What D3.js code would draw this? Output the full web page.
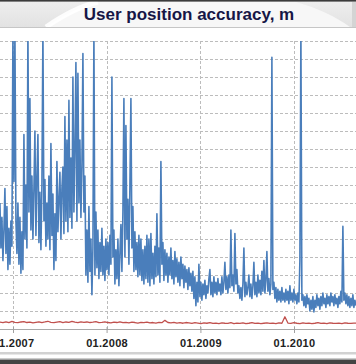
<!DOCTYPE html>
<html><head><meta charset="utf-8">
<script src="https://cdn.jsdelivr.net/npm/d3@7"></script>
<style>html,body{margin:0;padding:0;background:#fff;overflow:hidden}</style>
</head><body><svg id="c" width="356" height="364"></svg>
<script>
const chartTitle = "User position accuracy, m";
const tickYears = [2007, 2008, 2009, 2010];
const tickLabels = ["01.2007", "01.2008", "01.2009", "01.2010"];
const startDate = new Date(2006, 10, 11);
const blueStepDays = 3.9;
const redStepDays = 11.7;
const gridValues = [1,2,3,4,5,6,7,8,9,10,11,12,13,14,15,16];

const userAccuracy = [
7.0,4.5,6.2,3.8,5.5,7.8,4.2,6.8,3.3,5.6,3.6,6.0,4.6,16.5,8.2,16.5,6.0,4.2,7.0,3.6,
6.2,3.1,5.4,3.3,10.8,5.0,8.0,4.5,16.5,6.5,12.8,5.5,8.5,5.0,7.8,11.0,5.2,8.4,10.8,4.8,
7.6,4.4,8.0,16.5,6.0,8.3,4.6,7.0,5.0,8.5,4.4,10.3,5.2,7.5,3.3,6.4,3.8,9.3,5.4,7.2,
8.7,5.0,7.8,9.0,5.3,11.8,6.0,10.5,5.4,12.7,6.2,9.5,5.6,14.0,6.5,10.0,14.8,6.0,14.2,7.0,
10.5,6.2,9.0,15.3,6.5,8.5,3.0,5.5,2.6,6.8,3.2,5.0,1.9,4.5,16.5,3.0,6.5,3.4,5.5,2.8,
4.8,3.2,5.6,3.0,4.6,2.7,5.0,3.3,4.8,3.0,5.2,3.6,14.0,4.0,5.5,2.5,4.4,2.8,5.0,2.4,
4.2,5.8,3.2,6.5,12.8,4.0,11.3,5.0,7.2,3.6,8.0,12.8,4.5,6.8,3.2,5.4,3.3,4.8,2.9,5.2,
3.0,5.0,2.7,4.4,2.5,4.6,2.8,5.2,2.6,5.0,2.4,5.3,2.8,4.2,2.5,4.6,2.9,6.4,3.0,4.5,
2.6,9.3,3.6,4.8,2.7,4.4,3.0,4.2,2.6,4.0,3.0,4.5,2.8,3.8,2.5,4.3,2.9,3.9,2.6,3.7,
2.4,4.0,2.8,3.6,2.3,3.5,2.6,3.3,2.2,3.4,2.4,3.1,2.1,3.2,1.7,2.9,1.3,2.6,1.5,3.6,
1.8,2.6,1.6,2.5,1.9,2.7,1.7,2.4,2.0,2.8,3.3,1.9,2.6,1.8,2.9,2.0,2.6,1.9,2.8,2.1,
2.5,1.9,2.9,2.0,2.6,3.7,2.2,2.9,2.0,3.0,2.3,5.5,2.4,3.0,2.1,5.3,2.5,3.3,2.0,2.4,
1.7,2.3,1.6,2.5,4.5,1.8,2.6,1.9,2.3,3.0,1.8,2.5,1.7,2.4,3.7,1.9,2.6,1.8,3.0,2.0,
2.7,1.9,3.2,2.1,3.8,2.0,2.7,4.3,2.1,2.8,1.9,2.5,15.1,2.2,2.6,1.7,2.3,1.5,2.2,1.6,
2.1,1.5,2.3,1.6,2.0,1.5,2.2,1.6,2.1,1.4,2.4,1.6,2.0,1.5,2.2,1.6,1.9,1.4,2.0,1.5,
3.8,16.5,1.6,1.9,1.3,1.8,1.2,1.9,1.4,1.7,1.0,1.6,1.1,1.8,0.95,1.6,1.2,1.9,1.3,1.7,
1.1,1.8,1.3,2.0,1.4,1.7,1.2,1.9,1.4,1.8,1.3,2.0,1.5,1.8,1.3,1.9,1.4,1.7,1.2,1.8,
1.4,2.1,1.5,5.7,1.6,2.0,1.4,1.9,1.3,1.8,1.2,1.7,1.3,1.9,1.2,1.6,1.3
];

const referenceAccuracy = [
0.38,0.35,0.40,0.36,0.42,0.37,0.35,0.39,0.41,0.36,0.38,0.34,0.37,0.40,0.36,0.39,0.43,0.37,0.35,0.38,
0.41,0.36,0.39,0.37,0.42,0.38,0.35,0.40,0.37,0.39,
0.36,0.38,0.41,0.35,0.37,0.40,0.36,0.34,0.38,0.36,0.39,0.35,0.37,0.34,0.38,0.36,0.33,0.37,0.35,0.38,
0.34,0.36,0.33,0.37,0.35,0.48,0.36,0.34,0.37,0.33,
0.35,0.32,0.36,0.34,0.31,0.35,0.33,0.30,0.34,0.32,0.35,0.31,0.33,0.30,0.34,0.32,0.31,0.35,0.30,0.33,
0.31,0.34,0.30,0.32,0.35,0.31,0.33,0.30,0.32,0.34,
0.31,0.33,0.30,0.34,0.32,0.68,0.33,0.31,0.35,0.32,0.30,0.34,0.31,0.33,0.30,0.32,0.35,0.31,0.33,0.30,
0.34,0.32,0.31,0.33,0.30,0.34,0.32,0.31,0.33,0.32
];

const DAY = 86400000;
const blueData = userAccuracy.map((v, i) => ({date: new Date(+startDate + i * blueStepDays * DAY), value: v}));
const redData = referenceAccuracy.map((v, i) => ({date: new Date(+startDate + i * redStepDays * DAY), value: v}));

const W = 356, H = 364;
const svg = d3.select("#c");

const x = d3.scaleTime()
  .domain([new Date(2007, 0, 1), new Date(2010, 0, 1)])
  .range([13, 294]);
const y = d3.scaleLinear().domain([0, 16]).range([329, 41]);

// title band
const defs = svg.append("defs");
const g1 = defs.append("linearGradient").attr("id", "tb").attr("x1", 0).attr("y1", 0).attr("x2", 0).attr("y2", 1);
g1.append("stop").attr("offset", "0%").attr("stop-color", "#efefef");
g1.append("stop").attr("offset", "100%").attr("stop-color", "#e2e2e2");
svg.append("rect").attr("x", 0).attr("y", 0).attr("width", W).attr("height", 27).attr("fill", "url(#tb)");
svg.append("path").attr("d", "M46,27 C62,16 80,6 98,2 L296,2 C318,8 336,17 350,27 Z").attr("fill", "#f7f7f7");
svg.append("path").attr("d", "M46,27 C62,16 80,6 98,2").attr("fill", "none").attr("stroke", "#ffffff").attr("stroke-width", 5).attr("opacity", 0.9);
svg.append("rect").attr("x", 352).attr("y", 2).attr("width", 4).attr("height", 25).attr("fill", "#d4d4d4");
svg.append("rect").attr("x", 0).attr("y", 0).attr("width", W).attr("height", 1.6).attr("fill", "#3c3c3c");
svg.append("line").attr("x1", 0).attr("x2", W).attr("y1", 27.5).attr("y2", 27.5).attr("stroke", "#c6c6c6").attr("stroke-width", 1);

svg.append("text").attr("x", 189).attr("y", 20).attr("text-anchor", "middle")
  .attr("font-family", "Liberation Sans, Arial, sans-serif").attr("font-weight", "bold")
  .attr("font-size", 17).attr("fill", "#161646").text(chartTitle);

// gridlines
const grid = svg.append("g");
grid.selectAll("line.h").data(gridValues).join("line").attr("class", "h")
  .attr("x1", 0).attr("x2", W)
  .attr("y1", d => Math.round(y(d)) + 0.5).attr("y2", d => Math.round(y(d)) + 0.5)
  .attr("stroke", "#bcbcbc").attr("stroke-width", 1).attr("stroke-dasharray", "3,2");
const tickDates = tickYears.map(yr => new Date(yr, 0, 1));
grid.selectAll("line.v").data(tickDates).join("line").attr("class", "v")
  .attr("x1", d => Math.round(x(d)) + 0.5).attr("x2", d => Math.round(x(d)) + 0.5)
  .attr("y1", 41).attr("y2", 329)
  .attr("stroke", "#bcbcbc").attr("stroke-width", 1).attr("stroke-dasharray", "3,2");

// clip
defs.append("clipPath").attr("id", "pc").append("rect").attr("x", 0).attr("y", 41).attr("width", W).attr("height", 290);

const line = d3.line().x(d => x(d.date)).y(d => y(d.value));
svg.append("path").datum(blueData).attr("clip-path", "url(#pc)")
  .attr("d", line).attr("fill", "none").attr("stroke", "#4a7ebb")
  .attr("stroke-width", 1.6).attr("stroke-linejoin", "round");
svg.append("path").datum(redData).attr("clip-path", "url(#pc)")
  .attr("d", line).attr("fill", "none").attr("stroke", "#c0504d")
  .attr("stroke-width", 1.3).attr("stroke-linejoin", "round");

// axis
svg.append("line").attr("x1", 0).attr("x2", W).attr("y1", 329.5).attr("y2", 329.5).attr("stroke", "#a8a8a8");
const axis = d3.axisBottom(x).tickValues(tickDates).tickFormat((d, i) => tickLabels[i])
  .tickSize(4).tickSizeOuter(0).tickPadding(6);
const ag = svg.append("g").attr("transform", "translate(0,329)").call(axis);
ag.select(".domain").remove();
ag.selectAll(".tick line").attr("stroke", "#a0a0a0").attr("y1", -2);
ag.selectAll(".tick text").attr("font-family", "Liberation Sans, Arial, sans-serif")
  .attr("font-weight", "bold").attr("font-size", 11).attr("fill", "#222").attr("letter-spacing", 0.3);

// bottom frame
svg.append("rect").attr("x", 0).attr("y", 352).attr("width", W).attr("height", 2.5).attr("fill", "#d2d2d2");
svg.append("rect").attr("x", 0).attr("y", 359.5).attr("width", W).attr("height", 5).attr("fill", "#444");
svg.append("rect").attr("x", 0).attr("y", 358.5).attr("width", W).attr("height", 1).attr("fill", "#9a9a9a");
</script></body></html>
